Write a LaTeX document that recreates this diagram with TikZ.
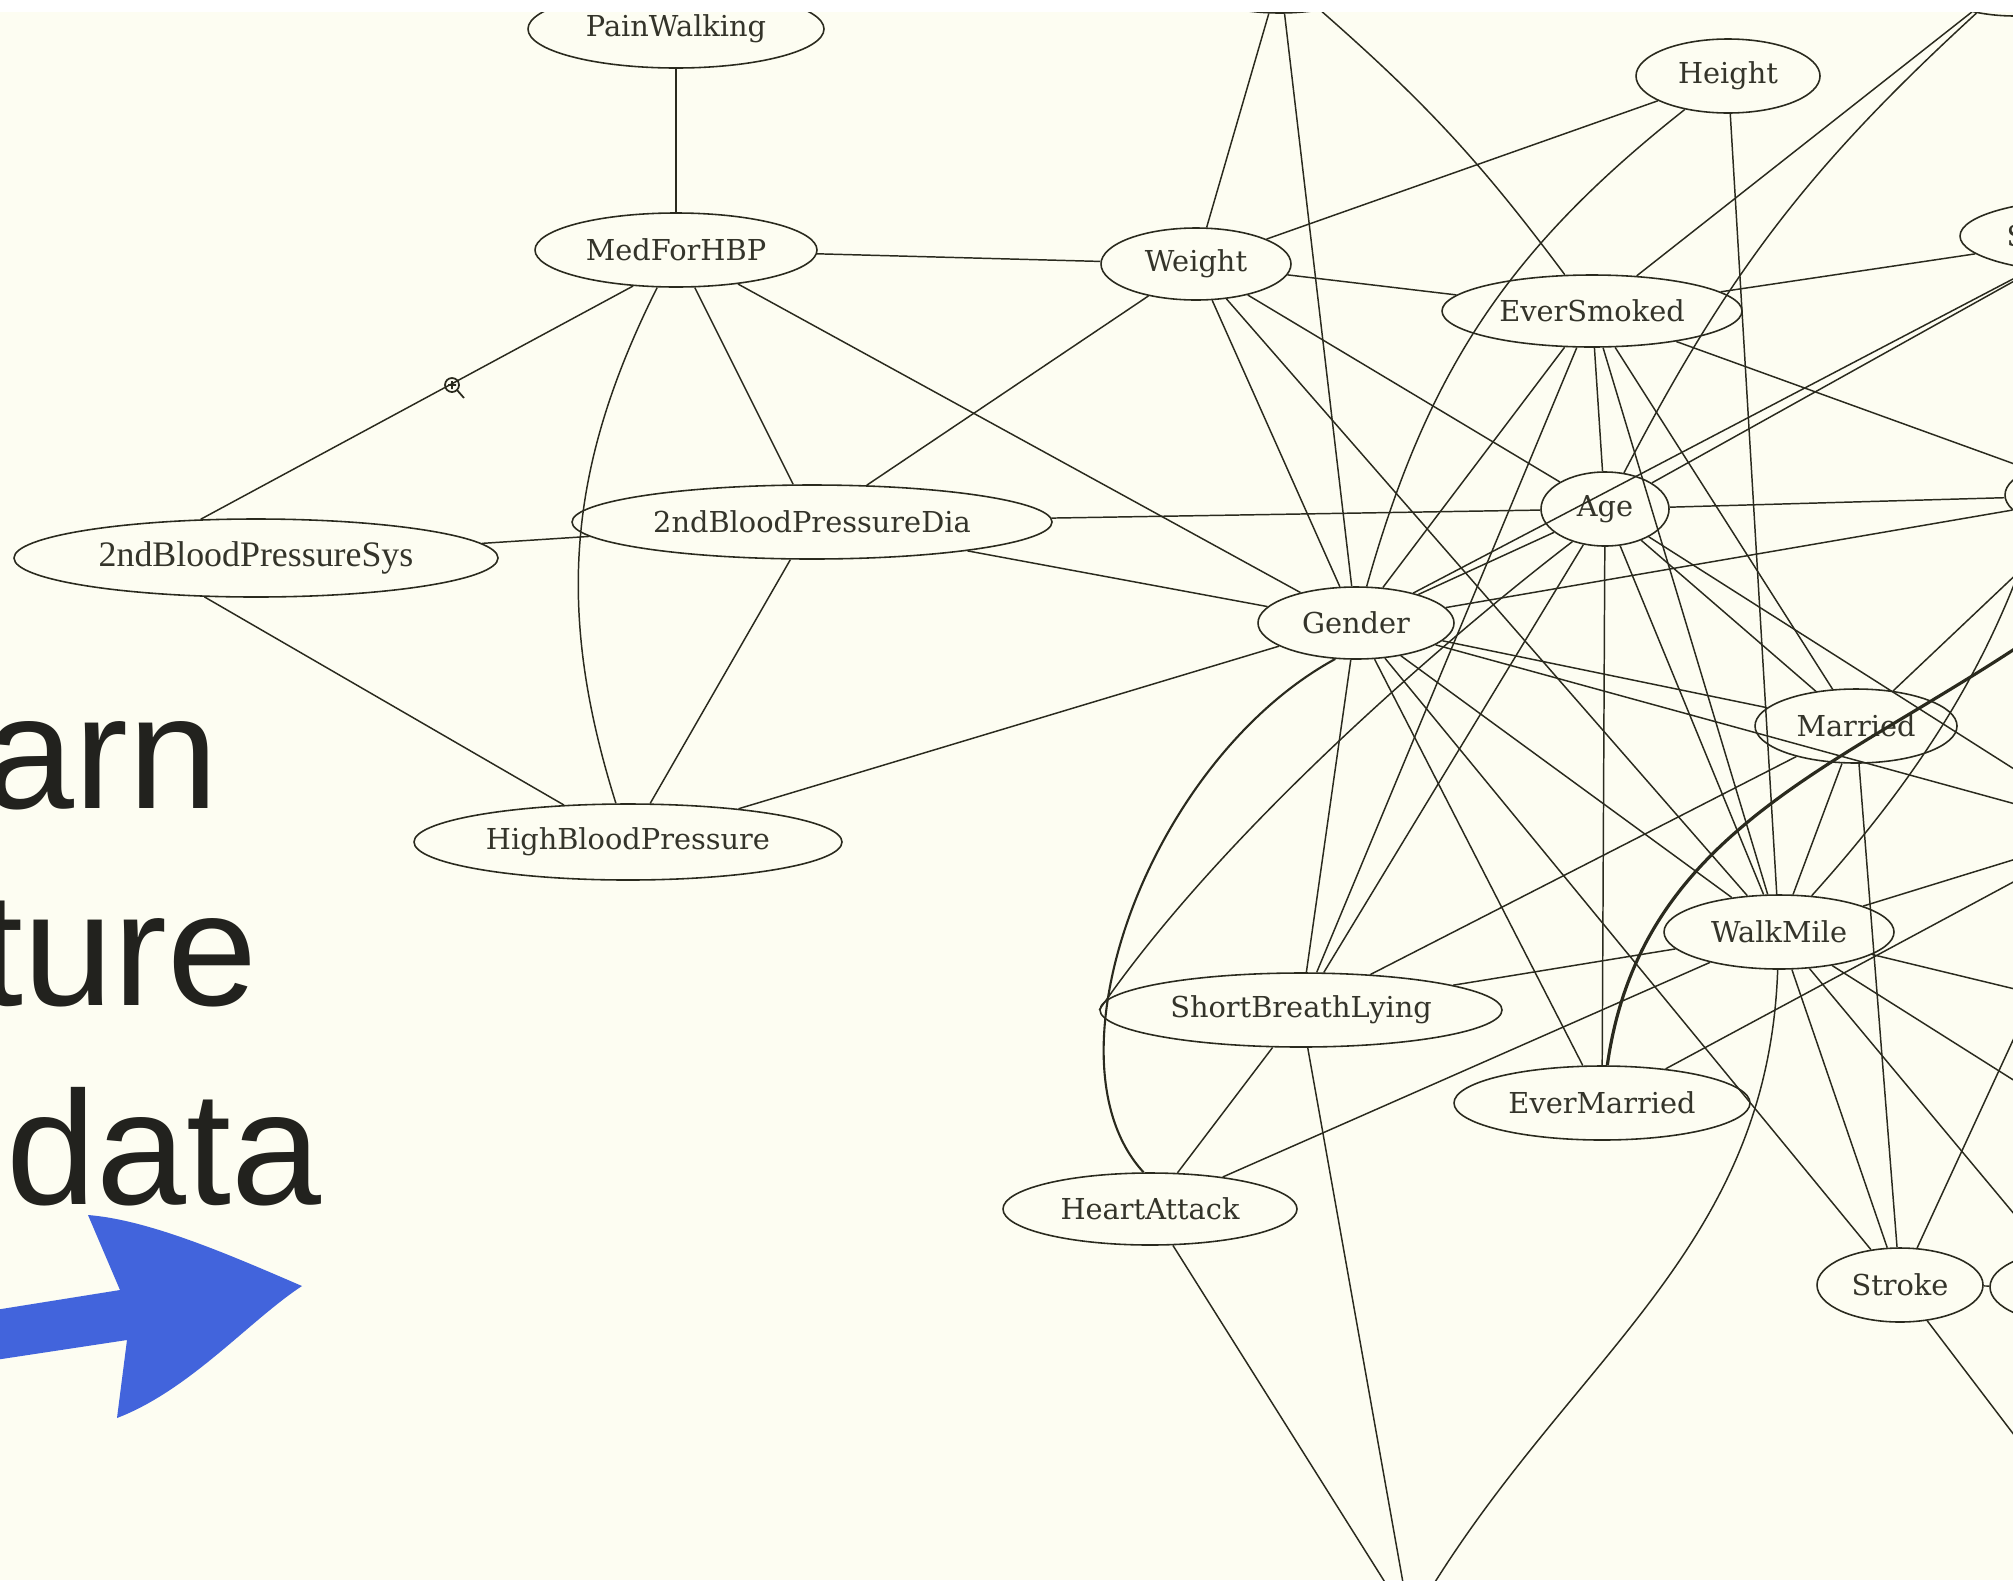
\documentclass[tikz,border=0pt]{standalone}
\usepackage{fontspec}
\setmainfont{DejaVu Serif}
\newfontfamily\bigsans{Liberation Sans}
\newfontfamily\sysfont{Liberation Serif}
\usetikzlibrary{shapes.geometric}
\definecolor{bgc}{RGB}{253,253,242}
\definecolor{ink}{RGB}{42,42,30}
\definecolor{txt}{RGB}{52,52,42}
\definecolor{arrowblue}{RGB}{66,100,220}
\definecolor{bigtxt}{RGB}{34,34,30}
\begin{document}
\begin{tikzpicture}[x=0.1mm,y=-0.1mm,
  nd/.style 2 args={ellipse, draw=ink, line width=0.45pt, minimum width=#1, minimum height=#2, inner sep=0pt, font=\fontsize{8.2}{10}\selectfont, text=txt},
  ed/.style={draw=ink, line width=0.42pt},
  midedge/.style={draw=ink, line width=0.6pt},
  thickedge/.style={draw=ink, line width=0.9pt},
  bigword/.style={font=\bigsans\fontsize{46}{50}\selectfont, text=bigtxt, inner sep=0pt, anchor=base east}
]
\useasboundingbox (0,0) rectangle (2013,1580);
\clip (0,0) rectangle (2013,1580);
\fill[bgc] (0,0) rectangle (2013,1580);

% big words and arrow
\node[bigword] (w1) at (219,808) {arn};
\node[bigword] (w2) at (258,1005) {ture};
\node[bigword] (w3) at (322,1204) {data};
\fill[arrowblue] (-5,1310) -- (120,1290) -- (88,1215)
  .. controls (150,1220) and (230,1255) .. (302,1286)
  .. controls (250,1320) and (190,1390) .. (117,1418)
  -- (127,1340) -- (-5,1360) -- cycle;

% cursor icon
\draw[ink, line width=0.5pt] (452,385) circle[radius=0.7mm];
\draw[ink, line width=0.5pt] (448,385) -- (456,385) (452,381) -- (452,389) (457,390) -- (464,398);

% nodes
\node[nd={29.6mm}{7.8mm}] (PW) at (676,29) {PainWalking};
\node[nd={28.2mm}{7.4mm}] (MFH) at (676,250) {MedForHBP};
\node[nd={48.0mm}{7.4mm}] (Dia) at (812,522) {2ndBloodPressureDia};
\node[nd={48.4mm}{7.8mm}, font=\sysfont\fontsize{10.2}{12}\selectfont] (Sys) at (256,558) {2ndBloodPressureSys};
\node[nd={42.8mm}{7.6mm}] (HBP) at (628,842) {HighBloodPressure};
\node[nd={19.0mm}{7.2mm}] (Weight) at (1196,264) {Weight};
\node[nd={18.4mm}{7.4mm}] (Height) at (1728,76) {Height};
\node[nd={30.0mm}{7.2mm}] (ES) at (1592,311) {EverSmoked};
\node[nd={12.8mm}{7.4mm}] (Age) at (1605,509) {Age};
\node[nd={19.6mm}{7.2mm}] (Gender) at (1356,623) {Gender};
\node[nd={20.2mm}{7.4mm}] (Married) at (1856,726) {Married};
\node[nd={23.0mm}{7.4mm}] (WM) at (1779,932) {WalkMile};
\node[nd={40.2mm}{7.4mm}] (SBL) at (1301,1010) {ShortBreathLying};
\node[nd={29.6mm}{7.4mm}] (EM) at (1602,1103) {EverMarried};
\node[nd={29.4mm}{7.2mm}] (HA) at (1150,1209) {HeartAttack};
\node[nd={16.6mm}{7.4mm}] (Stroke) at (1900,1285) {Stroke};
\node[nd={20mm}{7.6mm}] (T1) at (1280,-25) {};
\node[nd={18mm}{7.6mm}] (T2) at (2015,-22) {};
\node[nd={27mm}{7.4mm}] (S) at (2095,236) {};
\node[anchor=west, inner sep=0pt, font=\fontsize{8.2}{10}\selectfont, text=txt] (Slabel) at (2006,236) {S};
\node[nd={19mm}{7.4mm}] (R1) at (2100,495) {};
\node[nd={17mm}{7.4mm}] (R2) at (2075,1287) {};
\node[nd={18mm}{7.4mm}] (B1) at (1410,1622) {};
\coordinate (R5) at (2110,830);
\coordinate (Rb) at (2110,1012);
\coordinate (Rc) at (2110,1141);
\coordinate (Rd) at (2075,1515);
\coordinate (R4) at (2050,625);

% left cluster
\draw[ed] (PW) -- (MFH);
\draw[ed] (MFH) -- (Weight);
\draw[ed] (MFH.220) -- (Sys.145);
\draw[ed] (MFH) -- (Dia);
\draw[ed] (MFH) -- (Gender);
\draw[ed] (MFH) to[bend right=22] (HBP);
\draw[ed] (Sys) -- (Dia);
\draw[ed] (Sys.217) -- (HBP.150);
\draw[ed] (Dia) -- (HBP);
\draw[ed] (Dia) -- (Weight);
\draw[ed] (Dia) -- (Age);
\draw[ed] (Dia) -- (Gender);
\draw[ed] (HBP) -- (Gender);

% weight and top
\draw[ed] (Weight) -- (T1);
\draw[ed] (Weight) -- (Height);
\draw[ed] (Weight) -- (ES);
\draw[ed] (Weight) -- (Gender);
\draw[ed] (Weight) -- (WM);
\draw[ed] (Weight) -- (Age);
\draw[ed] (T1) -- (Gender);
\draw[ed] (T1) to[bend left=6] (ES);
\draw[ed] (Height) to[bend right=18] (Gender);
\draw[ed] (Height) -- (WM);
\draw[ed] (T2) -- (ES);
\draw[ed] (T2) to[bend right=10] (Age);

% ever smoked
\draw[ed] (ES) -- (S);
\draw[ed] (ES) -- (R1);
\draw[ed] (ES) -- (Age);
\draw[ed] (ES) -- (Gender);
\draw[ed] (ES) -- (SBL);
\draw[ed] (ES) -- (Married);
\draw[ed] (ES) -- (WM);

% age
\draw[ed] (Age) -- (R1);
\draw[ed] (Age) -- (Gender);
\draw[ed] (Age) -- (S);
\draw[ed] (Age) -- (EM);
\draw[ed] (Age) -- (WM);
\draw[ed] (Age) -- (Married);
\draw[ed] (Age) -- (SBL);
\draw[ed] (Age) -- (R5);
\draw[ed] (Age.225) .. controls (1470,620) and (1230,820) .. (SBL.west);

% gender
\draw[ed] (Gender) -- (S);
\draw[ed] (Gender) -- (R1);
\draw[ed] (Gender) -- (Married);
\draw[ed] (Gender) -- (R5);
\draw[ed] (Gender) -- (SBL);
\draw[ed] (Gender) -- (EM);
\draw[ed] (Gender) -- (Stroke);
\draw[ed] (Gender) -- (WM);
\draw[midedge] (Gender.240) .. controls (1150,760) and (1040,1060) .. (HA.100);

% married
\draw[ed] (Married) -- (WM);
\draw[ed] (Married) -- (Stroke);
\draw[ed] (Married) -- (SBL);
\draw[ed] (Married) -- (R1);

% walk mile
\draw[ed] (WM) -- (SBL);
\draw[ed] (WM) -- (HA);
\draw[ed] (WM) -- (Stroke);
\draw[ed] (WM) -- (R2);
\draw[ed] (WM) -- (R5);
\draw[ed] (WM) -- (Rb);
\draw[ed] (WM) -- (Rc);
\draw[ed] (S) to[out=262, in=48] (WM);
\draw[ed] (WM) to[out=268, in=58] (B1);

% lower nodes
\draw[ed] (SBL) -- (HA);
\draw[ed] (SBL) -- (B1);
\draw[ed] (HA) -- (B1);
\draw[ed] (EM) -- (R5);
\draw[thickedge] (EM) to[out=82, in=215] (R4);
\draw[ed] (Stroke) -- (R5);
\draw[ed] (Stroke) -- (R2);
\draw[ed] (Stroke) -- (Rd);

% white strip at top
\fill[white] (0,0) rectangle (2013,12);
\end{tikzpicture}
\end{document}
